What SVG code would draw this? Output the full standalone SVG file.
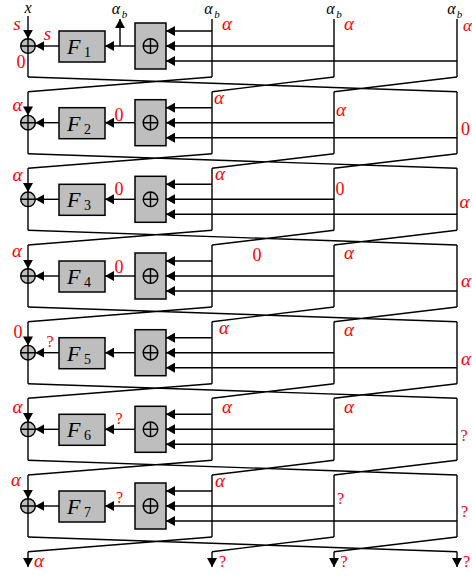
<svg xmlns="http://www.w3.org/2000/svg" width="472" height="577" viewBox="0 0 472 577">
<style>
.w{fill:none;stroke:#000;stroke-width:1.4}
.a{marker-end:url(#ah)}
.box{fill:#bebebe;stroke:#000;stroke-width:1.5}
.xc{fill:#bebebe;stroke:#000;stroke-width:1.4}
.pl{fill:none;stroke:#000;stroke-width:1.4}
.r{fill:#ff0000;font-family:"Liberation Serif",serif;font-size:18px;text-anchor:middle}
.ra{fill:#ff0000;font-family:"Liberation Serif",serif;font-style:italic;font-size:19px;text-anchor:middle}
.rn{fill:#ff0000;font-family:"Liberation Serif",serif;font-size:16px;text-anchor:middle}
.k{fill:#000;font-family:"Liberation Serif",serif;font-style:italic;font-size:16px;text-anchor:middle}
.kb{fill:#000;font-family:"Liberation Serif",serif;font-style:italic;font-size:11px;text-anchor:middle}
.F{fill:#000;font-family:"Liberation Serif",serif;font-style:italic;font-size:22px}
.Fs{fill:#000;font-family:"Liberation Serif",serif;font-size:14px}
</style>
<defs>
<marker id="ah" viewBox="0 0 9 10" refX="9" refY="5" markerWidth="9" markerHeight="10" markerUnits="userSpaceOnUse" orient="auto" preserveAspectRatio="none"><path d="M0,0 L9,5 L0,10 z" fill="#000"/></marker>
<g id="xorc"><circle r="7.3" class="xc"/><path d="M-7.3,0 H7.3 M0,-7.3 V7.3" class="pl"/></g>
<g id="bigx"><rect x="135" y="-23" width="31" height="46" class="box"/><circle cx="150.5" cy="0" r="7.3" fill="none" stroke="#000" stroke-width="1.4"/><path d="M143.2,0 H157.8 M150.5,-7.3 V7.3" class="pl"/></g>
</defs>

<g id="connectors">
<!-- round 1 -->
<path class="w a" d="M28,16 V38.7"/>
<path class="w" d="M212,19 V77 M334,19 V77 M457,19 V77 M28,53.3 V77"/>
<path class="w a" d="M212,31 H166"/><path class="w a" d="M334,46 H166"/><path class="w a" d="M457,61 H166"/>
<path class="w a" d="M135,46 H105"/><path class="w a" d="M59,46 H35.3"/>
<path class="w a" d="M120,46 V19"/>
<path class="w" d="M28,77 L457,91.7 M212,77 L28,91.7 M334,77 L212,91.7 M457,77 L334,91.7"/>
<!-- round 2 b=122.7 -->
<path class="w a" d="M28,91.7 V115.4"/>
<path class="w" d="M212,91.7 V153.7 M334,91.7 V153.7 M457,91.7 V153.7 M28,130 V153.7"/>
<path class="w a" d="M212,107.7 H166"/><path class="w a" d="M334,122.7 H166"/><path class="w a" d="M457,137.7 H166"/>
<path class="w a" d="M135,122.7 H105"/><path class="w a" d="M59,122.7 H35.3"/>
<path class="w" d="M28,153.7 L457,168.3 M212,153.7 L28,168.3 M334,153.7 L212,168.3 M457,153.7 L334,168.3"/>
<!-- round 3 b=199.3 -->
<path class="w a" d="M28,168.3 V192"/>
<path class="w" d="M212,168.3 V230.3 M334,168.3 V230.3 M457,168.3 V230.3 M28,206.6 V230.3"/>
<path class="w a" d="M212,184.3 H166"/><path class="w a" d="M334,199.3 H166"/><path class="w a" d="M457,214.3 H166"/>
<path class="w a" d="M135,199.3 H105"/><path class="w a" d="M59,199.3 H35.3"/>
<path class="w" d="M28,230.3 L457,245 M212,230.3 L28,245 M334,230.3 L212,245 M457,230.3 L334,245"/>
<!-- round 4 b=276 -->
<path class="w a" d="M28,245 V268.7"/>
<path class="w" d="M212,245 V307 M334,245 V307 M457,245 V307 M28,283.3 V307"/>
<path class="w a" d="M212,261 H166"/><path class="w a" d="M334,276 H166"/><path class="w a" d="M457,291 H166"/>
<path class="w a" d="M135,276 H105"/><path class="w a" d="M59,276 H35.3"/>
<path class="w" d="M28,307 L457,321.7 M212,307 L28,321.7 M334,307 L212,321.7 M457,307 L334,321.7"/>
<!-- round 5 b=352.7 -->
<path class="w a" d="M28,321.7 V345.4"/>
<path class="w" d="M212,321.7 V383.7 M334,321.7 V383.7 M457,321.7 V383.7 M28,360 V383.7"/>
<path class="w a" d="M212,337.7 H166"/><path class="w a" d="M334,352.7 H166"/><path class="w a" d="M457,367.7 H166"/>
<path class="w a" d="M135,352.7 H105"/><path class="w a" d="M59,352.7 H35.3"/>
<path class="w" d="M28,383.7 L457,398.3 M212,383.7 L28,398.3 M334,383.7 L212,398.3 M457,383.7 L334,398.3"/>
<!-- round 6 b=429.3 -->
<path class="w a" d="M28,398.3 V422"/>
<path class="w" d="M212,398.3 V460.3 M334,398.3 V460.3 M457,398.3 V460.3 M28,436.6 V460.3"/>
<path class="w a" d="M212,414.3 H166"/><path class="w a" d="M334,429.3 H166"/><path class="w a" d="M457,444.3 H166"/>
<path class="w a" d="M135,429.3 H105"/><path class="w a" d="M59,429.3 H35.3"/>
<path class="w" d="M28,460.3 L457,475 M212,460.3 L28,475 M334,460.3 L212,475 M457,460.3 L334,475"/>
<!-- round 7 b=506 -->
<path class="w a" d="M28,475 V498.7"/>
<path class="w" d="M212,475 V537 M334,475 V537 M457,475 V537 M28,513.3 V537"/>
<path class="w a" d="M212,491 H166"/><path class="w a" d="M334,506 H166"/><path class="w a" d="M457,521 H166"/>
<path class="w a" d="M135,506 H105"/><path class="w a" d="M59,506 H35.3"/>
<path class="w" d="M28,537 L457,551.7 M212,537 L28,551.7 M334,537 L212,551.7 M457,537 L334,551.7"/>
<!-- outputs -->
<path class="w a" d="M28,551.7 V567"/><path class="w a" d="M212,551.7 V567"/><path class="w a" d="M334,551.7 V567"/><path class="w a" d="M457,551.7 V567"/>
</g>

<g id="round1">
<use href="#xorc" x="28" y="46"/>
<g id="F1"><rect x="59" y="31" width="46" height="31" class="box"/><text class="F" x="67" y="54">F</text><text class="Fs" x="84" y="57">1</text></g>
<use href="#bigx" y="46"/>
</g>
<g id="round2">
<use href="#xorc" x="28" y="122.7"/>
<g id="F2"><rect x="59" y="107.7" width="46" height="31" class="box"/><text class="F" x="67" y="130.7">F</text><text class="Fs" x="84" y="133.7">2</text></g>
<use href="#bigx" y="122.7"/>
</g>
<g id="round3">
<use href="#xorc" x="28" y="199.3"/>
<g id="F3"><rect x="59" y="184.3" width="46" height="31" class="box"/><text class="F" x="67" y="207.3">F</text><text class="Fs" x="84" y="210.3">3</text></g>
<use href="#bigx" y="199.3"/>
</g>
<g id="round4">
<use href="#xorc" x="28" y="276"/>
<g id="F4"><rect x="59" y="261" width="46" height="31" class="box"/><text class="F" x="67" y="284">F</text><text class="Fs" x="84" y="287">4</text></g>
<use href="#bigx" y="276"/>
</g>
<g id="round5">
<use href="#xorc" x="28" y="352.7"/>
<g id="F5"><rect x="59" y="337.7" width="46" height="31" class="box"/><text class="F" x="67" y="360.7">F</text><text class="Fs" x="84" y="363.7">5</text></g>
<use href="#bigx" y="352.7"/>
</g>
<g id="round6">
<use href="#xorc" x="28" y="429.3"/>
<g id="F6"><rect x="59" y="414.3" width="46" height="31" class="box"/><text class="F" x="67" y="437.3">F</text><text class="Fs" x="84" y="440.3">6</text></g>
<use href="#bigx" y="429.3"/>
</g>
<g id="round7">
<use href="#xorc" x="28" y="506"/>
<g id="F7"><rect x="59" y="491" width="46" height="31" class="box"/><text class="F" x="67" y="514">F</text><text class="Fs" x="84" y="517">7</text></g>
<use href="#bigx" y="506"/>
</g>

<g id="top-labels">
<text class="k" x="28" y="13">x</text>
<text class="k" x="116" y="14">α</text><text class="kb" x="124.5" y="18">b</text>
<text class="k" x="208.5" y="14">α</text><text class="kb" x="217" y="18">b</text>
<text class="k" x="330.5" y="14">α</text><text class="kb" x="339" y="18">b</text>
<text class="k" x="451.5" y="14">α</text><text class="kb" x="459.5" y="18">b</text>
</g>

<g id="red-labels">
<text class="ra" x="17" y="30">s</text><text class="ra" x="47.5" y="40">s</text><text class="r" x="21" y="68">0</text>
<text class="ra" x="227" y="30">α</text><text class="ra" x="349" y="30">α</text><text class="ra" x="467.5" y="31" style="font-size:17px">α</text>

<text class="ra" x="17.5" y="111">α</text><text class="r" x="119" y="121">0</text><text class="ra" x="219" y="104">α</text><text class="ra" x="341" y="116">α</text><text class="r" x="465.5" y="135">0</text>

<text class="ra" x="17.5" y="181">α</text><text class="r" x="119" y="195">0</text><text class="ra" x="220" y="180">α</text><text class="r" x="340" y="195">0</text><text class="ra" x="464.5" y="208">α</text>

<text class="ra" x="17" y="257">α</text><text class="r" x="119" y="273">0</text><text class="r" x="257" y="261">0</text><text class="ra" x="349" y="259">α</text><text class="ra" x="466" y="287">α</text>

<text class="r" x="18" y="338">0</text><text class="rn" x="50" y="347">?</text><text class="ra" x="224" y="334">α</text><text class="ra" x="349" y="336">α</text><text class="ra" x="466" y="365">α</text>

<text class="ra" x="17.5" y="413">α</text><text class="rn" x="119" y="424">?</text><text class="ra" x="227" y="413">α</text><text class="ra" x="349" y="413">α</text><text class="rn" x="464" y="441">?</text>

<text class="ra" x="16" y="486">α</text><text class="rn" x="119.5" y="503">?</text><text class="ra" x="220" y="487">α</text><text class="rn" x="340.5" y="504">?</text><text class="rn" x="464.5" y="517">?</text>

<text class="ra" x="39" y="567">α</text><text class="rn" x="222.5" y="567">?</text><text class="rn" x="344" y="567">?</text><text class="rn" x="466.5" y="567">?</text>
</g>
</svg>
